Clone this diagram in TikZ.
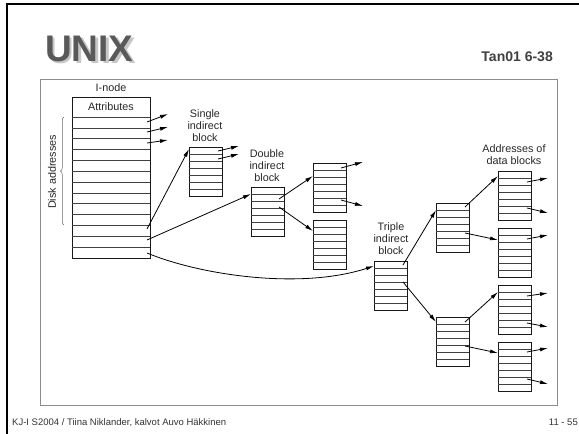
\documentclass[tikz,border=0pt]{standalone}
\usepackage{fontspec}
\setmainfont{Liberation Sans}
\usetikzlibrary{arrows.meta,calc,decorations.pathreplacing}

\tikzset{
	blk/.style={draw=black!90,line width=1pt,minimum width=33pt,minimum height=49pt,inner sep=0pt,outer sep=0pt,anchor=north west},
	rowline/.style={black!75,line width=.7pt},
	lbl/.style={font=\fontsize{10.8}{12}\selectfont,text=black!85,align=center,inner sep=0pt},
	ptr/.style={->,line width=.8pt},
}
\newcommand{\idxblock}[2]{%
	\node[blk] (#1) at (#2) {};
	\foreach \k in {1,...,6}
		\draw[rowline] ($(#1.north west)!\k/7!(#1.south west)$) -- ($(#1.north east)!\k/7!(#1.south east)$);
}

\begin{document}
\begin{tikzpicture}[x=1pt,y=-1pt,>={Latex[length=8pt,width=4pt]}]
	\useasboundingbox (0,0) rectangle (579,434);

	% slide
	\draw[line width=2.2pt] (7,434) -- (7,4) -- (579,4);
	\draw[black!45,line width=.8pt] (40,79) rectangle (557,405);
	\node[anchor=base west,font=\fontsize{37}{37}\selectfont\bfseries,text=black!22,inner sep=0pt] (title-sh) at (47.5,63.5) {UNIX};
	\node[anchor=base west,font=\fontsize{37}{37}\selectfont\bfseries,text=black!65,inner sep=0pt] (title) at (45,61.5) {UNIX};
	\node[anchor=base east,font=\fontsize{14}{14}\selectfont\bfseries,text=black!75,inner sep=0pt] (ref) at (553,61) {Tan01 6-38};
	\node[anchor=base west,font=\fontsize{9.5}{10}\selectfont,text=black!80,inner sep=0pt] (foot) at (12,425.5) {KJ-I S2004 / Tiina Niklander, kalvot Auvo Häkkinen};
	\node[anchor=base east,font=\fontsize{9.5}{10}\selectfont,text=black!80,inner sep=0pt] (page) at (578,425.5) {11 - 55};

	% i-node
	\node[blk,minimum width=78pt,minimum height=161pt] (inode) at (72,97) {};
	\foreach \k in {0,...,12}
		\draw[rowline] (72,{117+\k*10.85}) -- (150,{117+\k*10.85});
	\node[lbl] (inode-t) at (111,88) {I-node};
	\node[lbl] (attr) at (111,107) {Attributes};
	\draw[black!60,line width=.5pt,decorate,decoration={brace,amplitude=3.5pt}] (64,225) -- (64,117);
	\node[lbl,rotate=90] (disk) at (52,172) {Disk addresses};

	% blocks
	\idxblock{sib}{189,147}
	\idxblock{dib}{251,187}
	\idxblock{dba}{313,163}
	\idxblock{dbb}{313,220}
	\idxblock{tib}{374,261}
	\idxblock{tba}{436,203}
	\idxblock{tbb}{436,317}
	\idxblock{daa}{498,171}
	\idxblock{dab}{498,228}
	\idxblock{dac}{498,285}
	\idxblock{dad}{498,342}

	\node[lbl] (sib-t) at (205,126) {Single\\indirect\\block};
	\node[lbl] (dib-t) at (267,166) {Double\\indirect\\block};
	\node[lbl] (tib-t) at (391,239) {Triple\\indirect\\block};
	\node[lbl] (dat-t) at (514,155) {Addresses of\\data blocks};

	% pointers
	\draw[ptr] ($(inode.north east)+(-3,25)$) -- ++(21,-8);
	\draw[ptr] ($(inode.north east)+(-3,35)$) -- ++(21,-5);
	\draw[ptr] ($(inode.north east)+(-3,46)$) -- ++(21,-3);
	\draw[ptr] ($(inode.north east)+(-3,132)$) -- ($(sib.north west)+(0,2)$);
	\draw[ptr] ($(inode.north east)+(-3,143)$) -- ($(dib.north west)+(0,7)$);
	\draw[ptr] ($(inode.north east)+(-3,156)$) .. controls (200,275) and (300,290) .. ($(tib.north west)+(0,5)$);

	\draw[ptr] ($(sib.north east)+(-4,4)$) -- ++(21,-5);
	\draw[ptr] ($(sib.north east)+(-4,12)$) -- ++(21,-5);

	\draw[ptr] ($(dib.north east)+(-5,12)$) -- ($(dba.north west)+(0,13)$);
	\draw[ptr] ($(dib.north east)+(-5,20)$) -- ($(dbb.north west)+(0,11)$);
	\draw[ptr] ($(dba.north east)+(-5,5)$) -- ++(22,-6);
	\draw[ptr] ($(dba.north east)+(-5,37)$) -- ++(22,6);

	\draw[ptr] ($(tib.north east)+(-4,4)$) -- ($(tba.north west)+(0,7)$);
	\draw[ptr] ($(tib.north east)+(-4,21)$) -- ($(tbb.north west)+(0,5)$);
	\draw[ptr] ($(tba.north east)+(-4,4)$) -- ($(daa.north west)+(0,5)$);
	\draw[ptr] ($(tba.north east)+(-4,30)$) -- ($(dab.north west)+(0,12)$);
	\draw[ptr] ($(tbb.north east)+(-4,5)$) -- ($(dac.north west)+(0,7)$);
	\draw[ptr] ($(tbb.north east)+(-4,29)$) -- ($(dad.north west)+(0,11)$);

	\draw[ptr] ($(daa.north east)+(-4,11)$) -- ++(21,-4);
	\draw[ptr] ($(daa.north east)+(-4,37)$) -- ++(21,5);
	\draw[ptr] ($(dab.north east)+(-4,11)$) -- ++(21,-4);
	\draw[ptr] ($(dac.north east)+(-4,11)$) -- ++(21,-3);
	\draw[ptr] ($(dac.north east)+(-4,38)$) -- ++(21,4);
	\draw[ptr] ($(dad.north east)+(-4,10)$) -- ++(21,-4);
	\draw[ptr] ($(dad.north east)+(-4,37)$) -- ++(21,5);
\end{tikzpicture}
\end{document}
